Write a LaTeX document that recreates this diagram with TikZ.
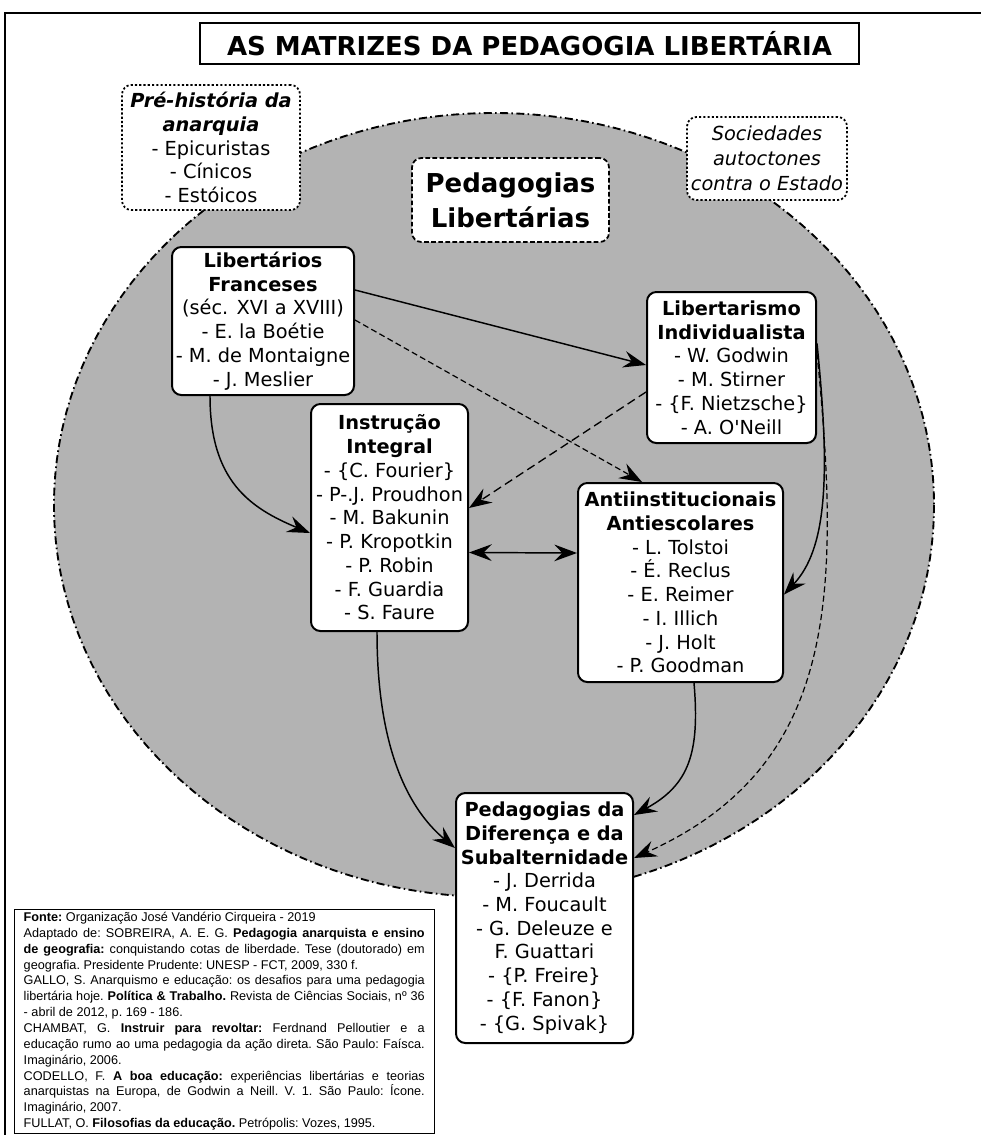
\documentclass[tikz,border=0pt]{standalone}
\usepackage{fontspec}
\setmainfont{DejaVu Sans}
\newfontfamily\refsfont{Liberation Sans}
\usetikzlibrary{arrows.meta, calc}
\definecolor{blobgray}{HTML}{B3B3B3}

\begin{document}
\begin{tikzpicture}[x=0.75pt, y=-0.75pt,
    >={Stealth[length=17pt, width=12.5pt, inset=6pt]},
    libbox/.style={draw, line width=1.5pt, rounded corners=7pt, fill=white, align=center,
        inner sep=0pt, font=\fontsize{14.5}{17.8}\selectfont},
    dotbox/.style={libbox, line width=1.3pt, dash pattern=on 1.6pt off 1.6pt},
    dashbox/.style={libbox, line width=1.3pt, dash pattern=on 3.5pt off 1.8pt},
    arr/.style={->, line width=1.1pt},
    finedash/.style={arr, line width=0.9pt, dash pattern=on 4.5pt off 2.5pt},
    longdash/.style={arr, line width=1pt, dash pattern=on 6.5pt off 3.5pt}]
    \useasboundingbox (0,0) rectangle (981,1135);
    % moldura e titulo
    \draw[line width=2.2pt] (5,1150) -- (5,13) -- (995,13);
    \node[draw, line width=1.4pt, minimum width=494.25pt, minimum height=30.75pt, inner sep=0pt,
        font=\fontsize{19.5}{24}\selectfont\bfseries] (titulo) at (529.5,43.5)
        {AS MATRIZES DA PEDAGOGIA LIBERTÁRIA};
    % o campo das pedagogias libertarias
    \draw[fill=blobgray, line width=1.4pt, dash pattern=on 6pt off 2.5pt on 1.2pt off 2.5pt]
        (494,505) ellipse [x radius=440, y radius=392];
    \node[dotbox, minimum width=133.5pt, minimum height=93.75pt] (prehist) at (211,147.5)
        {\textbf{\textit{Pré-história da}}\\\textbf{\textit{anarquia}}\\- Epicuristas\\- Cínicos\\- Estóicos};
    \node[dotbox, minimum width=120pt, minimum height=62.25pt, font=\fontsize{14.5}{18.8}\selectfont\itshape] (socied) at (767,158.5)
        {Sociedades\\autoctones\\contra o Estado};
    \node[dashbox, minimum width=147.75pt, minimum height=63pt, font=\fontsize{19.5}{26}\selectfont\bfseries] (pedlib) at (510.5,200)
        {Pedagogias\\Libertárias};
    % as matrizes
    \node[libbox, minimum width=136.5pt, minimum height=111pt] (franc) at (263,321)
        {\textbf{Libertários}\\\textbf{Franceses}\\(séc. XVI a XVIII)\\- E. la Boétie\\- M. de Montaigne\\- J. Meslier};
    \node[libbox, minimum width=126.75pt, minimum height=113.25pt] (indiv) at (731.5,367.5)
        {\textbf{Libertarismo}\\\textbf{Individualista}\\- W. Godwin\\- M. Stirner\\- \{F. Nietzsche\}\\- A. O\textquotesingle Neill};
    \node[libbox, minimum width=117.75pt, minimum height=170.25pt] (instr) at (389.5,517.5)
        {\textbf{Instrução}\\\textbf{Integral}\\- \{C. Fourier\}\\- P-.J. Proudhon\\- M. Bakunin\\- P. Kropotkin\\- P. Robin\\- F. Guardia\\- S. Faure};
    \node[libbox, minimum width=153.75pt, minimum height=149.25pt] (antii) at (680.5,582.5)
        {\textbf{Antiinstitucionais}\\\textbf{Antiescolares}\\- L. Tolstoi\\- É. Reclus\\- E. Reimer\\- I. Illich\\- J. Holt\\- P. Goodman};
    \node[libbox, minimum width=132.75pt, minimum height=187.5pt] (difer) at (544.5,918)
        {\textbf{Pedagogias da}\\\textbf{Diferença e da}\\\textbf{Subalternidade}\\- J. Derrida\\- M. Foucault\\- G. Deleuze e\\F. Guattari\\- \{P. Freire\}\\- \{F. Fanon\}\\- \{G. Spivak\}};
    % influencias
    \draw[arr] ($(franc.east)+(0,-31)$) -- ($(indiv.west)+(0,-2.5)$);
    \draw[finedash] ($(franc.east)+(0,-1)$) -- ($(antii.north)+(-38.5,0)$);
    \draw[longdash] ($(indiv.west)+(0,24.5)$) -- ($(instr.east)+(0,-9.5)$);
    \draw[arr] ($(franc.south)+(-53,0)$) .. controls +(0,85) and +(-60,-25) .. ($(instr.west)+(0,15.5)$);
    \draw[<->, line width=1.1pt] ($(instr.east)+(0,35)$) -- ($(antii.west)+(0,-29.5)$);
    \draw[arr] ($(indiv.east)+(0,-24)$) .. controls +(14,137) and +(42,-45) .. ($(antii.east)+(0,12)$);
    \draw[finedash] ($(indiv.east)+(0,-14)$) .. controls +(25,250) and +(200,-90) .. ($(difer.east)+(0,-60)$);
    \draw[arr] ($(instr.south)+(-12.5,0)$) .. controls +(0,110) and +(-50,-42) .. ($(difer.west)+(0,-70)$);
    \draw[arr] ($(antii.south)+(13.5,0)$) .. controls +(6,70) and +(55,-30) .. ($(difer.east)+(0,-103)$);
    % fontes
    \node[draw, line width=0.6pt, anchor=north west, text width=300.75pt, inner xsep=7pt, inner ysep=2pt,
        align=justify, font=\refsfont\fontsize{9.5}{11.9}\selectfont] (fontes) at (14,909)
        {\parindent=0pt\frenchspacing
        \textbf{Fonte:} Organização José Vandério Cirqueira - 2019\par
        Adaptado de: SOBREIRA, A. E. G. \textbf{Pedagogia anarquista e ensino}\linebreak
        \textbf{de geografia:} conquistando cotas de liberdade. Tese (doutorado) em\linebreak
        geografia. Presidente Prudente: UNESP - FCT, 2009, 330 f.\par
        GALLO, S. Anarquismo e educação: os desafios para uma pedagogia\linebreak
        libertária hoje. \textbf{Política \& Trabalho.} Revista de Ciências Sociais, nº 36\linebreak
        - abril de 2012, p. 169 - 186.\par
        CHAMBAT, G. \textbf{Instruir para revoltar:} Ferdnand Pelloutier e a\linebreak
        educação rumo ao uma pedagogia da ação direta. São Paulo: Faísca.\linebreak
        Imaginário, 2006.\par
        CODELLO, F. \textbf{A boa educação:} experiências libertárias e teorias\linebreak
        anarquistas na Europa, de Godwin a Neill. V. 1. São Paulo: Ícone.\linebreak
        Imaginário, 2007.\par
        FULLAT, O. \textbf{Filosofias da educação.} Petrópolis: Vozes, 1995.};
\end{tikzpicture}
\end{document}
